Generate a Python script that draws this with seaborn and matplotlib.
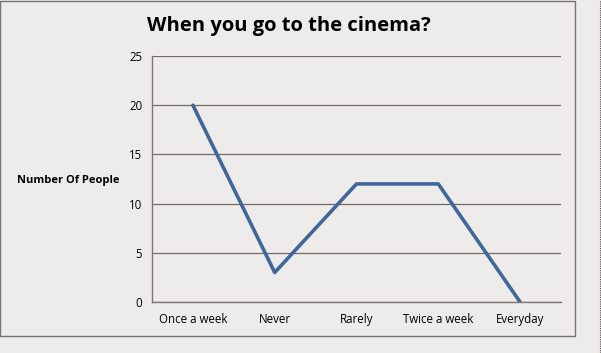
import pandas as pd
import matplotlib.pyplot as plt
import seaborn as sns
from matplotlib.patches import Rectangle
from matplotlib.lines import Line2D

categories = ['Once a week', 'Never', 'Rarely', 'Twice a week', 'Everyday']
people = [20, 3, 12, 12, 0]
y_ticks = [0, 5, 10, 15, 20, 25]

df = pd.DataFrame({'answer': categories, 'people': people, 'pos': range(len(categories))})

bg = '#eeecea'
grey = '#7a7672'

sns.set_style('white')
plt.rcParams['font.family'] = ['Open Sans', 'DejaVu Sans']
plt.rcParams['text.color'] = 'black'
plt.rcParams['xtick.color'] = 'black'
plt.rcParams['ytick.color'] = 'black'

fig = plt.figure(figsize=(6.01, 3.53), dpi=100, facecolor=bg)
ax = fig.add_axes([152 / 601, 1 - 302 / 353, 409 / 601, 246 / 353])
ax.set_facecolor(bg)

sns.lineplot(data=df, x='pos', y='people', sort=False, color='#41679a', linewidth=2.6, ax=ax)

ax.set_xlim(-0.5, len(categories) - 0.5)
ax.set_ylim(0, 25)
ax.set_yticks(y_ticks)
ax.yaxis.grid(True, color='#6f6b67', linewidth=0.9)
ax.set_axisbelow(True)

ax.set_xticks(range(len(categories)))
ax.set_xticklabels(categories, fontsize=8.3, va='baseline')
ax.set_xticks([i - 0.5 for i in range(len(categories) + 1)], minor=True)
ax.tick_params(axis='x', which='major', length=0, pad=15)
ax.tick_params(axis='x', which='minor', length=4, color=grey, width=1)
ax.tick_params(axis='y', length=4, color=grey, width=1, labelsize=8.3, pad=3)

for s in ['top', 'right']:
    ax.spines[s].set_visible(False)
for s in ['left', 'bottom']:
    ax.spines[s].set_color(grey)
    ax.spines[s].set_linewidth(1)

ax.set_xlabel('')
ax.set_ylabel('')
fig.text(17 / 601, 1 - 181 / 353, 'Number Of People', fontsize=8, fontweight='bold', va='center', ha='left')
fig.text(289 / 601, 1 - 26 / 353, 'When you go to the cinema?', fontsize=14.5, fontweight='bold', ha='center', va='center')

# chart border and the dotted edge on the right
fig.patches.append(Rectangle((0, 1 - 336 / 353), 575 / 601, 336 / 353 - 0.002, transform=fig.transFigure,
                             fill=False, edgecolor='#77736f', linewidth=1))
fig.lines.append(Line2D([600 / 601, 600 / 601], [0, 1], transform=fig.transFigure,
                        color='#555555', linewidth=0.8, linestyle=(0, (1, 1))))

fig.savefig('out.png', dpi=100, facecolor=bg)
